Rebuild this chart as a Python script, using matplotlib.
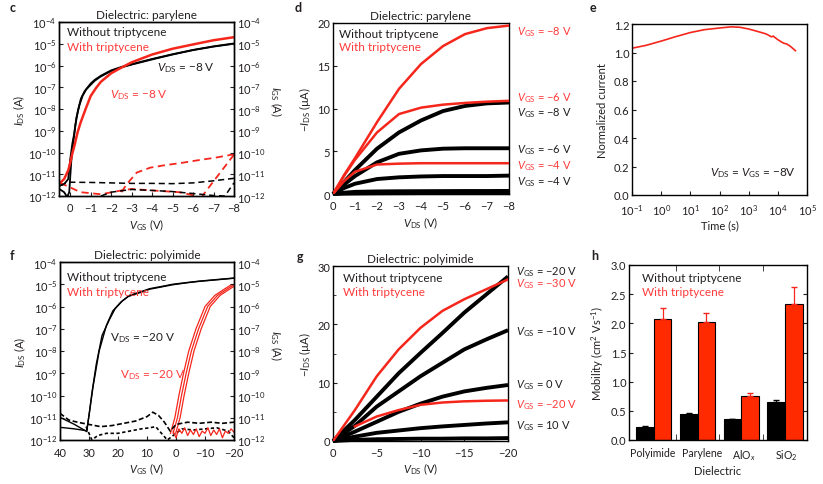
import numpy as np
import matplotlib
matplotlib.use('Agg')
import matplotlib.pyplot as plt
from matplotlib.ticker import LogLocator, NullLocator, FixedLocator, FormatStrFormatter

# ---------------- data ----------------
# panel c (parylene transfer, log)
c_vgs_blk_a = [0.5, 0.3, 0.1, 0.0, -0.1, -0.2, -0.3, -0.45, -0.6, -0.78, -1.0, -1.2, -1.46, -2, -2.5, -3, -4, -5, -6, -7, -8]
c_ids_blk_a = [3e-12, 3.5e-12, 6e-12, 5e-11, 2.5e-10, 8e-10, 4e-9, 1.5e-8, 4e-8, 8e-8, 1.3e-7, 2e-7, 3e-7, 5.6e-7, 8.2e-7, 1.1e-6, 1.9e-6, 3.2e-6, 5.1e-6, 7.4e-6, 1e-5]
c_vgs_blk_b = [0.5, 0.3, 0.15, 0.05, -0.05, -0.15, -0.25, -0.38, -0.52, -0.7, -1.0, -1.2, -1.5, -2, -2.5, -3, -4, -5, -6, -7, -8]
c_ids_blk_b = [2e-12, 1.5e-12, 9e-13, 1.5e-12, 4e-11, 3e-10, 1.8e-9, 9e-9, 3e-8, 6.5e-8, 1.5e-7, 2.2e-7, 3.4e-7, 6.0e-7, 8.6e-7, 1.15e-6, 2.0e-6, 3.3e-6, 5.2e-6, 7.6e-6, 1.03e-5]
c_vgs_red = [0.5, 0.3, 0.1, 0.0, -0.1, -0.2, -0.35, -0.5, -0.75, -1, -1.25, -1.5, -2, -2.5, -3, -4, -5, -6, -7, -8]
c_ids_red = [4e-12, 6e-12, 1.5e-11, 3.4e-11, 9e-11, 2e-10, 8e-10, 2.3e-9, 1e-8, 4e-8, 9e-8, 1.8e-7, 4.4e-7, 8e-7, 1.4e-6, 3.2e-6, 5.9e-6, 9.3e-6, 1.45e-5, 2e-5]
c_gs_red_up_v = [-2.5, -2.76, -3.25, -3.9, -4.5, -5.5, -6.3, -7.1, -8]
c_gs_red_up_i = [1.5e-12, 3.5e-12, 1.2e-11, 2e-11, 2.5e-11, 3.4e-11, 4.5e-11, 5.8e-11, 8.3e-11]
c_gs_red_ret_v = [-8, -6.45]
c_gs_red_ret_i = [8e-11, 1e-12]
c_gs_red_lo_v = [0.5, 0.2, -0.5, -1.5, -2.5, -3.0, -4.0, -5.3, -6.2]
c_gs_red_lo_i = [4e-12, 3e-12, 1.5e-12, 1.2e-12, 1.8e-12, 2.1e-12, 1.8e-12, 1.5e-12, 1e-12]
c_gs_blk_up_v = [0.5, 0.2, 0, -1, -2, -3, -4, -5, -6, -7, -8]
c_gs_blk_up_i = [3e-12, 4e-12, 4.3e-12, 4.2e-12, 4e-12, 3.8e-12, 3.8e-12, 3.7e-12, 4e-12, 5e-12, 6.5e-12]
c_gs_blk_lo_v = [-1.5, -2, -3, -4, -5, -6, -7, -7.56, -7.9, -8]
c_gs_blk_lo_i = [1e-12, 1.5e-12, 2e-12, 1.8e-12, 1.6e-12, 1.3e-12, 1.05e-12, 1e-12, 3e-12, 4e-12]

# panel d (parylene output)
d_vds = [0, -0.5, -1, -2, -3, -4, -5, -6, -7, -8]
d_red_m8 = [0, 2.2, 4.2, 8.4, 12.3, 15.2, 17.3, 18.7, 19.4, 19.7]
d_red_m6 = [0, 2.1, 4.0, 7.2, 9.35, 10.1, 10.45, 10.65, 10.8, 10.9]
d_red_m4 = [0, 1.5, 2.6, 3.45, 3.55, 3.6, 3.6, 3.6, 3.6, 3.6]
d_blk_m8 = [0, 1.4, 2.8, 5.3, 7.2, 8.6, 9.7, 10.3, 10.6, 10.7]
d_blk_m6 = [0, 1.1, 2.1, 3.7, 4.7, 5.1, 5.3, 5.35, 5.35, 5.35]
d_blk_m4 = [0, 0.7, 1.2, 1.75, 1.95, 2.05, 2.1, 2.1, 2.1, 2.15]
d_blk_m2 = [0, 0.15, 0.25, 0.3, 0.32, 0.33, 0.34, 0.35, 0.35, 0.36]
d_blk_0 = [0, 0.04, 0.06, 0.08, 0.09, 0.1, 0.1, 0.1, 0.1, 0.1]
d_labels = ['$V_{\\rm GS}$ = −8 V', '$V_{\\rm GS}$ = −6 V', '$V_{\\rm GS}$ = −8 V',
            '$V_{\\rm GS}$ = −6 V', '$V_{\\rm GS}$ = −4 V', '$V_{\\rm GS}$ = −4 V']
d_label_y = [19.1, 11.35, 9.6, 5.26, 3.4, 1.52]
d_label_red = [True, True, False, False, True, False]

# panel e (stability)
e_time = [0.1, 0.3, 1, 3, 10, 30, 100, 250, 500, 1000, 2000, 4000, 6000, 7000, 8000, 1e4, 1.3e4, 1.6e4, 2e4, 2.5e4, 3e4, 4e4]
e_norm = [1.03, 1.05, 1.08, 1.11, 1.14, 1.16, 1.172, 1.18, 1.177, 1.165, 1.148, 1.13, 1.11, 1.115, 1.105, 1.09, 1.075, 1.065, 1.06, 1.048, 1.035, 1.013]

# panel f (polyimide transfer, log)
f_vgs_blk_a = [40, 35, 30.8, 29.9, 28.9, 27.5, 25.5, 23, 21, 18.5, 16, 12, 9.1, 5, 1.1, -4, -8, -14, -20]
f_lg_blk_a = [-10.98, -11.3, -11.62, -10.8, -9.8, -8.6, -7.3, -6.6, -6.1, -5.75, -5.5, -5.33, -5.2, -5.1, -5.0, -4.92, -4.86, -4.79, -4.72]
f_vgs_blk_b = [40, 35, 31.0, 30.8, 29.9, 28.6, 26.5, 24, 21.8, 19, 16.5, 12, 9, 5, 1, -4, -8, -14, -20]
f_lg_blk_b = [-11.43, -11.5, -11.58, -11.62, -10.8, -9.6, -8.0, -6.85, -6.2, -5.8, -5.55, -5.36, -5.22, -5.12, -5.02, -4.93, -4.87, -4.8, -4.73]
f_vgs_red = [1.0, -0.5, -1.9, -3.5, -5.3, -7.8, -10.9, -14.3, -17.8, -20]
f_lg_red = [-11.7, -11.0, -10.0, -9.0, -8.0, -7.0, -6.0, -5.5, -5.2, -5.02]
f_red_shift = [0.0, -0.9, 0.9]
f_gs_blk1_v = [40, 37, 34, 30, 26, 22, 18, 14, 10, 8, 6, 4, 2, 0, -4, -8, -12, -16, -20]
f_gs_blk1_lg = [-10.8, -11.1, -11.2, -11.3, -11.4, -11.35, -11.25, -11.15, -10.95, -10.75, -10.9, -11.2, -11.6, -11.3, -11.2, -11.25, -11.2, -11.25, -11.2]
f_gs_blk2_v = [31, 29, 27, 24, 20, 16, 12, 9, 7, 5, 3, 1, -2, -6, -10, -14, -18, -20]
f_gs_blk2_lg = [-11.4, -12, -11.8, -11.7, -11.7, -11.6, -11.5, -11.45, -11.4, -11.7, -12, -11.8, -11.5, -11.55, -11.5, -11.45, -11.6, -11.9]
f_gs_red_v = [1, 0, -1, -2, -3, -4, -5, -6, -7, -8, -9, -10, -11, -12, -13, -14, -15, -16, -17, -18, -19, -20]
f_gs_red_lg = [-11.6, -11.9, -11.5, -11.7, -11.45, -11.8, -11.55, -11.75, -11.5, -11.85, -11.6, -11.7, -11.45, -11.8, -11.55, -11.75, -11.5, -11.9, -11.6, -11.7, -11.5, -11.65]

# panel g (polyimide output)
g_vds = [0, -2.5, -5, -7.5, -10, -12.5, -15, -17.5, -20]
g_blk_m20 = [0, 3.6, 7.6, 11.6, 15.1, 18.5, 22.0, 25.1, 28.2]
g_red_m30 = [0, 5.3, 11.1, 15.7, 19.4, 22.3, 24.3, 26.0, 27.7]
g_blk_m10 = [0, 2.6, 5.9, 8.5, 11.1, 13.4, 15.7, 17.4, 19.0]
g_blk_0 = [0, 1.6, 3.3, 5.0, 6.4, 7.6, 8.5, 9.1, 9.6]
g_red_m20 = [2.5, 4.2, 5.3, 6.2, 6.6, 6.8, 6.9, 6.95]
g_blk_p10 = [0, 0.75, 1.4, 1.8, 2.2, 2.5, 2.75, 3.0, 3.2]
g_blk_p20 = [0, 0.2, 0.3, 0.35, 0.4, 0.4, 0.45, 0.45, 0.5]
g_labels = ['$V_{\\rm GS}$ = −20 V', '$V_{\\rm GS}$ = −30 V', '$V_{\\rm GS}$ = −10 V',
            '$V_{\\rm GS}$ = 0 V', '$V_{\\rm GS}$ = −20 V', '$V_{\\rm GS}$ = 10 V']
g_label_y = [29.2, 27.0, 18.9, 9.8, 6.3, 2.7]
g_label_red = [False, True, False, False, True, False]

# panel h (mobility)
h_cats = ['Polyimide', 'Parylene', 'AlO$_x$', 'SiO$_2$']
h_without = [0.22, 0.45, 0.36, 0.65]
h_without_err = [0.015, 0.015, 0.0, 0.03]
h_with = [2.08, 2.015, 0.75, 2.34]
h_with_err = [0.19, 0.17, 0.05, 0.29]

# ---------------- style ----------------
plt.rcParams['font.family'] = ['Lato', 'DejaVu Sans']
plt.rcParams['mathtext.fontset'] = 'custom'
plt.rcParams['mathtext.rm'] = 'Lato'
plt.rcParams['mathtext.it'] = 'Lato:italic'
plt.rcParams['mathtext.bf'] = 'Lato:bold'
plt.rcParams['font.size'] = 8
plt.rcParams['axes.linewidth'] = 1.0
plt.rcParams['xtick.direction'] = 'in'
plt.rcParams['ytick.direction'] = 'in'
plt.rcParams['xtick.major.size'] = 3
plt.rcParams['ytick.major.size'] = 3
plt.rcParams['xtick.major.pad'] = 4
plt.rcParams['ytick.major.pad'] = 2

TXT = '#231f20'
RED = '#f5261b'
RED_TXT = '#ff3b3b'
BAR_RED = '#ff2a00'
plt.rcParams['text.color'] = TXT
plt.rcParams['axes.labelcolor'] = TXT
plt.rcParams['xtick.color'] = TXT
plt.rcParams['ytick.color'] = TXT
plt.rcParams['axes.edgecolor'] = 'black'

fig = plt.figure(figsize=(8.23, 4.85), dpi=100)
W, H = 823.0, 485.0

def pos(l, t, r, b):
    return [l / W, 1 - b / H, (r - l) / W, (b - t) / H]

def legend_txt(ax, x, y1, y2):
    ax.text(x, y1, 'Without triptycene', transform=ax.transAxes, color=TXT, va='center', ha='left', fontsize=8.5)
    ax.text(x, y2, 'With triptycene', transform=ax.transAxes, color=RED_TXT, va='center', ha='left', fontsize=8.5)

def log_axis(ax):
    ax.set_yscale('log')
    ax.set_ylim(1e-12, 1e-4)
    ax.yaxis.set_major_locator(LogLocator(base=10, numticks=20))
    ax.yaxis.set_minor_locator(NullLocator())

def panel_letter(x, y, s):
    fig.text(x / W, 1 - y / H, s, fontweight='bold', fontsize=9, va='center', ha='left')

def right_label(x, y, s):
    fig.text(x / W, 1 - y / H, s, rotation=270, ha='center', va='center', fontsize=8)

# ---------------- panel c ----------------
ax = fig.add_axes(pos(59, 23, 234, 197))
log_axis(ax)
ax.set_xlim(0.55, -8)
ax.set_xticks([0, -1, -2, -3, -4, -5, -6, -7, -8])
ax.plot(c_vgs_blk_a, c_ids_blk_a, color='black', lw=1.3)
ax.plot(c_vgs_blk_b, c_ids_blk_b, color='black', lw=1.3)
ax.plot(c_vgs_red, c_ids_red, color=RED, lw=1.8)
ax.plot(c_gs_red_up_v, c_gs_red_up_i, color=RED, lw=1.3, ls=(0, (4, 2.5)))
ax.plot(c_gs_red_ret_v, c_gs_red_ret_i, color=RED, lw=1.3, ls=(0, (4, 2.5)))
ax.plot(c_gs_red_lo_v, c_gs_red_lo_i, color=RED, lw=1.3, ls=(0, (4, 2.5)))
ax.plot(c_gs_blk_up_v, c_gs_blk_up_i, color='black', lw=1.1, ls=(0, (4, 2.5)))
ax.plot(c_gs_blk_lo_v, c_gs_blk_lo_i, color='black', lw=1.1, ls=(0, (4, 2.5)))
ax.set_xlabel('$V_{\\rm GS}$ (V)', labelpad=3)
ax.set_ylabel('$I_{\\rm DS}$ (A)', labelpad=1)
ax.set_title('Dielectric: parylene', fontsize=8.5, pad=3)
ax.text(-4.24, 10**-6.07, '$V_{\\rm DS}$ = −8 V', color=TXT, va='center', fontsize=8.5)
ax.text(-1.95, 10**-7.31, '$V_{\\rm DS}$ = −8 V', color=RED_TXT, va='center', fontsize=8.5)
legend_txt(ax, 0.045, 0.943, 0.862)
tw = ax.twinx()
log_axis(tw)
right_label(276, 102, '$I_{\\rm GS}$ (A)')
panel_letter(10, 8, 'c')

# ---------------- panel d ----------------
ax = fig.add_axes(pos(333, 24, 509, 195))
ax.set_xlim(0, -8)
ax.set_ylim(0, 20)
ax.set_xticks([0, -1, -2, -3, -4, -5, -6, -7, -8])
ax.set_yticks([0, 5, 10, 15, 20])
for yv in [d_blk_0, d_blk_m2, d_blk_m4, d_blk_m6, d_blk_m8]:
    ax.plot(d_vds, yv, color='black', lw=2.8, solid_capstyle='butt', clip_on=False, zorder=2)
for yv in [d_red_m4, d_red_m6, d_red_m8]:
    ax.plot(d_vds, yv, color=RED, lw=1.8, zorder=3)
for lab, yy, isred in zip(d_labels, d_label_y, d_label_red):
    ax.text(-8.36, yy, lab, color=RED_TXT if isred else TXT, va='center', ha='left', fontsize=8, clip_on=False)
ax.set_xlabel('$V_{\\rm DS}$ (V)', labelpad=3)
ax.set_ylabel('$-I_{\\rm DS}$ (µA)', labelpad=3)
ax.set_title('Dielectric: parylene', fontsize=8.5, pad=3)
legend_txt(ax, 0.034, 0.94, 0.86)
panel_letter(295, 8, 'd')

# ---------------- panel e ----------------
ax = fig.add_axes(pos(632, 25, 807, 196))
ax.set_xscale('log')
ax.set_xlim(0.1, 1e5)
ax.set_ylim(0, 1.2)
ax.xaxis.set_major_locator(LogLocator(base=10, numticks=20))
ax.xaxis.set_minor_locator(NullLocator())
ax.set_yticks([0, 0.2, 0.4, 0.6, 0.8, 1.0, 1.2])
ax.yaxis.set_major_formatter(FormatStrFormatter('%.1f'))
ax.tick_params(axis='x', pad=5)
ax.plot(e_time, e_norm, color=RED, lw=1.2)
ax.set_xlabel('Time (s)', labelpad=2)
ax.set_ylabel('Normalized current', labelpad=4)
ax.text(0.937, 0.134, '$V_{\\rm DS}$ = $V_{\\rm GS}$ = −8V', transform=ax.transAxes, ha='right', va='center', fontsize=8.5)
panel_letter(590, 8, 'e')

# ---------------- panel f ----------------
ax = fig.add_axes(pos(60, 263, 234, 441))
log_axis(ax)
ax.set_xlim(40, -20)
ax.set_xticks([40, 30, 20, 10, 0, -10, -20])
ax.tick_params(axis='x', pad=5)
ax.plot(f_vgs_blk_a, [10**v for v in f_lg_blk_a], color='black', lw=1.0)
ax.plot(f_vgs_blk_b, [10**v for v in f_lg_blk_b], color='black', lw=1.0)
for sh in f_red_shift:
    ax.plot([v + sh for v in f_vgs_red], [10**v for v in f_lg_red], color=RED, lw=0.9)
ax.plot(f_gs_blk1_v, [10**v for v in f_gs_blk1_lg], color='black', lw=1.2, ls=(0, (3, 1.5)))
ax.plot(f_gs_blk2_v, [10**v for v in f_gs_blk2_lg], color='black', lw=1.2, ls=(0, (2, 1.5)))
ax.plot(f_gs_red_v, [10**v for v in f_gs_red_lg], color=RED, lw=0.9)
ax.set_xlabel('$V_{\\rm GS}$ (V)', labelpad=2)
ax.set_ylabel('$I_{\\rm DS}$ (A)', labelpad=1)
ax.set_title('Dielectric: polyimide', fontsize=8.5, pad=3)
ax.text(22.8, 10**-7.37, 'V$_{\\rm DS}$ = −20 V', color=TXT, va='center', fontsize=8.5)
ax.text(19.3, 10**-9.03, 'V$_{\\rm DS}$ = −20 V', color=RED_TXT, va='center', fontsize=8.5)
legend_txt(ax, 0.04, 0.916, 0.837)
tw = ax.twinx()
log_axis(tw)
right_label(276, 346, '$I_{\\rm GS}$ (A)')
panel_letter(10, 256, 'f')

# ---------------- panel g ----------------
ax = fig.add_axes(pos(333, 267, 508, 442))
ax.set_xlim(0, -20)
ax.set_ylim(0, 30)
ax.set_xticks([0, -5, -10, -15, -20])
ax.set_yticks([0, 10, 20, 30])
ax.yaxis.set_minor_locator(FixedLocator([5, 15, 25]))
ax.tick_params(axis='y', which='minor', direction='in', length=2)
for yv in [g_blk_p20, g_blk_p10, g_blk_0, g_blk_m10, g_blk_m20]:
    ax.plot(g_vds, yv, color='black', lw=2.8, solid_capstyle='butt', clip_on=False, zorder=2)
ax.plot(g_vds, g_red_m30, color=RED, lw=1.8, zorder=3)
ax.plot(g_vds[1:], g_red_m20, color=RED, lw=1.8, zorder=3)
for lab, yy, isred in zip(g_labels, g_label_y, g_label_red):
    ax.text(-20.9, yy, lab, color=RED_TXT if isred else TXT, va='center', ha='left', fontsize=8, clip_on=False)
ax.set_xlabel('$V_{\\rm DS}$ (V)', labelpad=2)
ax.set_ylabel('$-I_{\\rm DS}$ (µA)', labelpad=3)
ax.set_title('Dielectric: polyimide', fontsize=8.5, pad=3)
legend_txt(ax, 0.057, 0.937, 0.857)
panel_letter(297, 257, 'g')

# ---------------- panel h ----------------
ax = fig.add_axes(pos(629, 266, 807, 441))
x = np.arange(len(h_cats))
bw = 0.405
ax.bar(x - bw / 2, h_without, bw, color='black', edgecolor='black', lw=0.8)
ax.bar(x + bw / 2, h_with, bw, color=BAR_RED, edgecolor='black', lw=0.8)
ax.errorbar(x - bw / 2, h_without, yerr=[[0] * 4, h_without_err], fmt='none', ecolor='black', elinewidth=0.8, capsize=2)
ax.errorbar(x + bw / 2, h_with, yerr=[[0] * 4, h_with_err], fmt='none', ecolor=RED, elinewidth=0.9, capsize=2)
ax.set_xlim(-0.565, 3.5)
ax.set_ylim(0, 3.0)
ax.set_yticks([0, 0.5, 1.0, 1.5, 2.0, 2.5, 3.0])
ax.yaxis.set_major_formatter(FormatStrFormatter('%.1f'))
ax.tick_params(axis='y', right=True)
ax.set_xticks(x + np.array([-0.02, 0.1, 0.05, 0.03]))
ax.set_xticklabels(h_cats, fontsize=7.6)
ax.xaxis.set_minor_locator(FixedLocator([0.5, 1.5, 2.5]))
ax.tick_params(axis='x', which='major', length=0, pad=5)
ax.tick_params(axis='x', which='minor', direction='in', length=4, top=True)
ax.set_xlabel('Dielectric', labelpad=2)
ax.set_ylabel('Mobility (cm$^2$ Vs$^{-1}$)', labelpad=3)
legend_txt(ax, 0.073, 0.931, 0.851)
panel_letter(591, 256, 'h')

fig.savefig('out.png', dpi=100)
